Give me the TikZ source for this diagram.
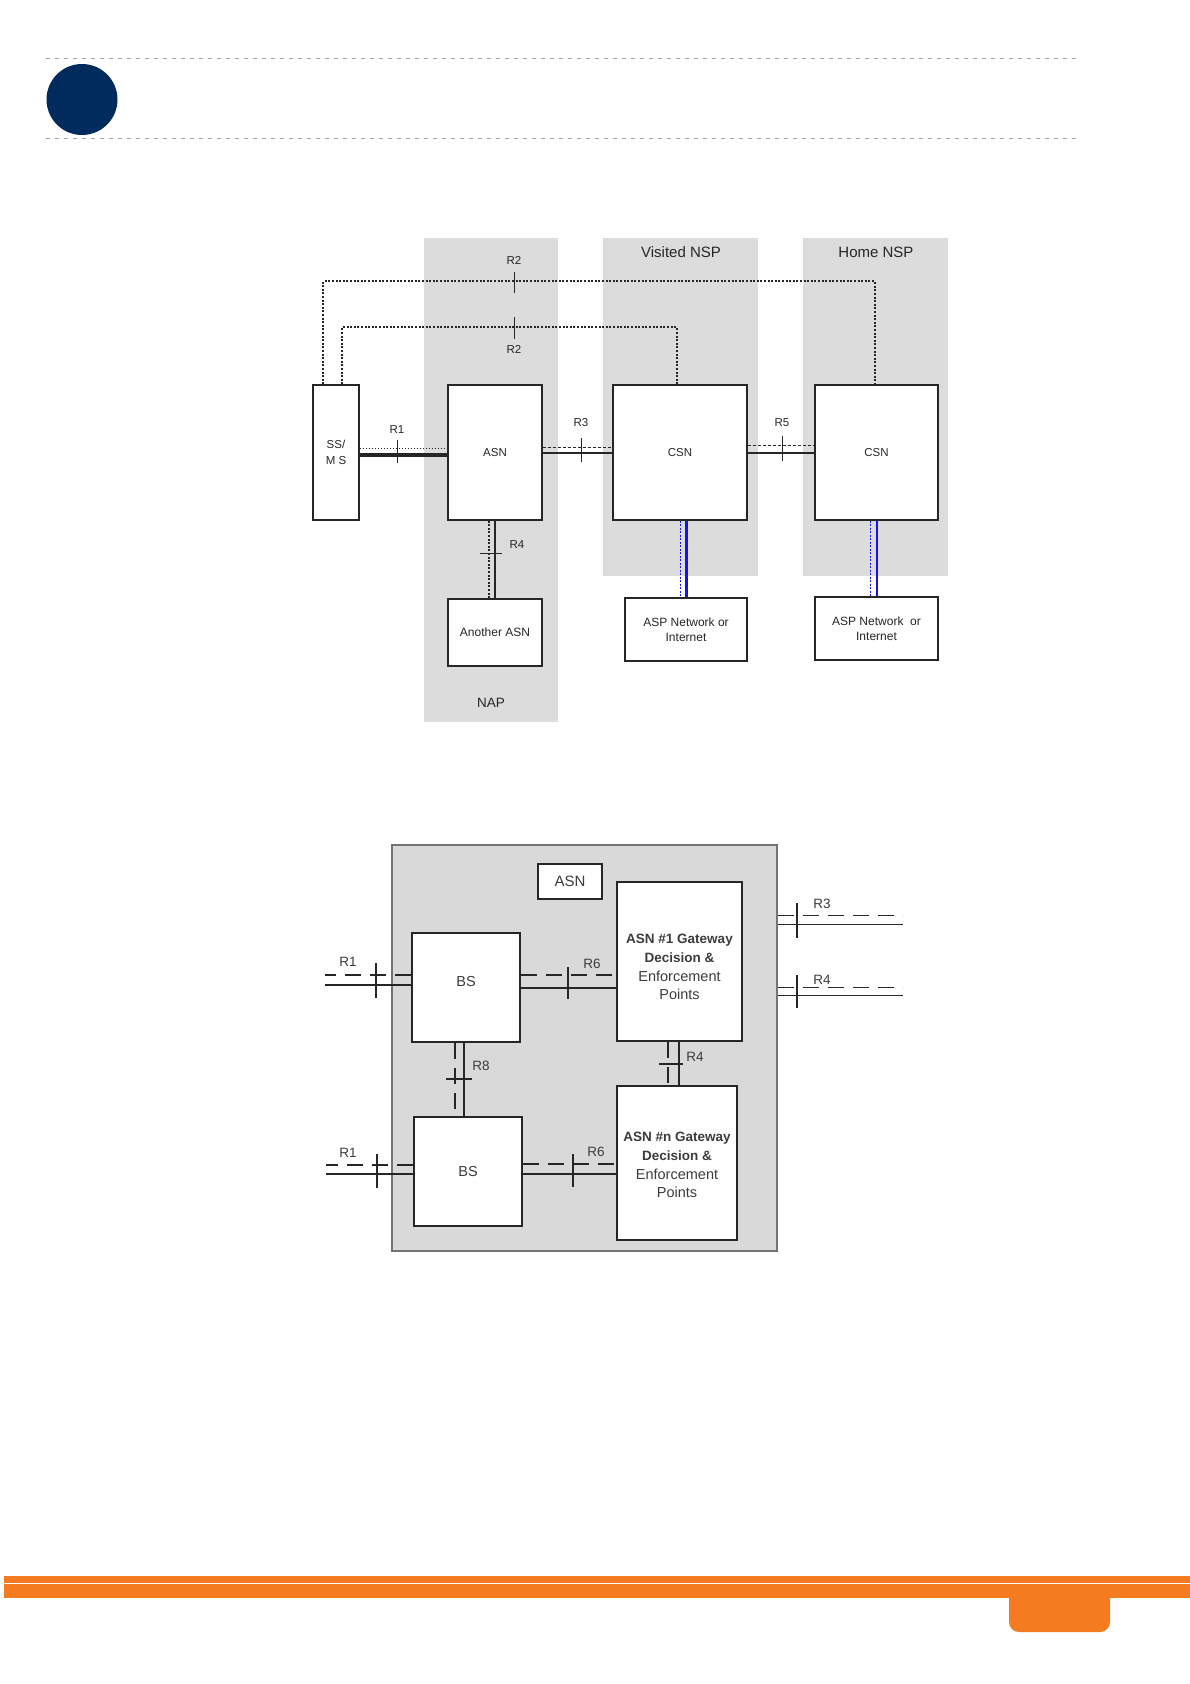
\documentclass[tikz,border=0pt]{standalone}
\usepackage{fontspec}
\setmainfont{Liberation Sans}
\usetikzlibrary{positioning, calc}
\definecolor{navyDot}{HTML}{002B5C}
\definecolor{barOrange}{HTML}{F47B20}
\definecolor{zoneGray}{HTML}{DCDCDC}
\definecolor{frameGray}{HTML}{D9D9D9}
\definecolor{lineDark}{HTML}{262626}
\definecolor{textSoft}{HTML}{3C3C3C}
\definecolor{linkBlue}{HTML}{1414E6}
\newcommand{\gwbold}[1]{{\fontsize{13.5}{18.7}\selectfont\bfseries #1}}

\begin{document}
\begin{tikzpicture}[x=1pt, y=-1pt,
    netbox/.style={rectangle, draw=lineDark, line width=1.1pt, fill=white, inner sep=0pt,
      text=lineDark, font=\fontsize{11.5}{15}\selectfont, align=center},
    gwbox/.style={netbox, line width=1.3pt, text=textSoft, font=\fontsize{14.5}{18.7}\selectfont},
    gwtext/.style={text=textSoft, font=\fontsize{14.5}{18.7}\selectfont, align=center, inner sep=0pt},
    zonelbl/.style={font=\fontsize{15}{17}\selectfont, text=lineDark},
    rlbl/.style={font=\fontsize{11.5}{13}\selectfont, text=lineDark, inner sep=0pt},
    rlbltwo/.style={font=\fontsize{13.5}{15}\selectfont, text=textSoft, inner sep=0pt},
    tickmk/.style={lineDark, line width=1pt},
    rtwo/.style={lineDark, line width=2pt, dash pattern=on 2pt off 1.6pt},
    dotln/.style={lineDark, line width=0.9pt, dash pattern=on 1.5pt off 1.5pt},
    dashsm/.style={lineDark, line width=0.9pt, dash pattern=on 3pt off 2pt},
    solidln/.style={lineDark, line width=1.2pt},
    dashln/.style={lineDark, line width=1.2pt, dash pattern=on 16pt off 9pt},
    bluesolid/.style={linkBlue, line width=3pt},
    bluedash/.style={linkBlue, line width=0.9pt, dash pattern=on 2pt off 1.5pt}
  ]
  \useasboundingbox (0,0) rectangle (1190,1684);
  \fill[white] (0,0) rectangle (1190,1684);

  % header
  \draw[gray!70, line width=1pt, dash pattern=on 4pt off 5pt] (46,58) -- (1076,58);
  \draw[gray!70, line width=1pt, dash pattern=on 4pt off 5pt] (46,138) -- (1076,138);
  \fill[navyDot] (82,99.5) circle[radius=35.5];

  % top diagram: domains
  \fill[zoneGray] (424,238) rectangle (558,722);
  \fill[zoneGray] (603,238) rectangle (758,576);
  \fill[zoneGray] (803,238) rectangle (948,576);
  \node[zonelbl] (vnsp) at (681,252) {Visited NSP};
  \node[zonelbl] (hnsp) at (876,252) {Home NSP};
  \node[zonelbl, font=\fontsize{13.5}{15}\selectfont] (nap) at (491,703) {NAP};

  \node[netbox, minimum width=46pt, minimum height=135pt, font=\fontsize{11.5}{16}\selectfont] (ssms) at (336,452.5) {SS/\\M S};
  \node[netbox, minimum width=94pt, minimum height=135pt] (asn) at (495,452.5) {ASN};
  \node[netbox, minimum width=134pt, minimum height=135pt] (csnv) at (680,452.5) {CSN};
  \node[netbox, minimum width=123pt, minimum height=135pt] (csnh) at (876.5,452.5) {CSN};
  \node[netbox, minimum width=94pt, minimum height=67pt, font=\fontsize{12}{14}\selectfont] (another) at (495,632.5) {Another ASN};
  \node[netbox, minimum width=122pt, minimum height=63pt, font=\fontsize{12}{14.5}\selectfont] (aspv) at (686,629.5) {ASP Network or\\Internet};
  \node[netbox, minimum width=123pt, minimum height=63pt, font=\fontsize{12}{14.5}\selectfont] (asph) at (876.5,628.5) {ASP Network~ or\\Internet};

  % R2 paths
  \draw[rtwo] ($(ssms.north west)+(11,0)$) -- ++(0,-103) -| ($(csnh.north)+(-1.5,0)$);
  \draw[rtwo] ($(ssms.north west)+(30,0)$) -- ++(0,-57) -| ($(csnv.north)+(-3,0)$);

  % R1, R3, R5
  \draw[dotln] ($(ssms.east)+(0,-4.5)$) -- ($(asn.west)+(0,-4.5)$);
  \draw[lineDark, line width=3.5pt] ($(ssms.east)+(0,2.5)$) -- ($(asn.west)+(0,2.5)$);
  \draw[dashsm] ($(asn.east)+(0,-5.5)$) -- ($(csnv.west)+(0,-5.5)$);
  \draw[lineDark, line width=2pt] (asn.east) -- (csnv.west);
  \draw[dashsm] ($(csnv.east)+(0,-7.5)$) -- ($(csnh.west)+(0,-7.5)$);
  \draw[lineDark, line width=2pt] (csnv.east) -- (csnh.west);

  % R4 to another ASN
  \draw[rtwo] ($(asn.south)+(-6,0)$) -- ($(another.north)+(-6,0)$);
  \draw[lineDark, line width=2pt] (asn.south) -- (another.north);

  % links to ASP
  \draw[bluedash] (csnv.south) -- (aspv.north -| csnv.south);
  \draw[bluesolid] ($(csnv.south)+(6,0)$) -- (aspv.north);
  \draw[bluedash] ($(csnh.south)+(-6,0)$) -- ($(asph.north)+(-6,0)$);
  \draw[bluesolid, line width=2pt] (csnh.south) -- (asph.north);

  \foreach \tx/\ta/\tb in {397/440/463, 581/438/462, 782/436/461, 514/272/293, 514/317/339}
    \draw[tickmk] (\tx,\ta) -- (\tx,\tb);
  \draw[tickmk] (480,553) -- (502,553);

  \foreach \lx/\ly/\lt [count=\i] in {397/430/R1, 514/260/R2, 514/349/R2, 581/423/R3, 782/423/R5, 517/545/R4}
    \node[rlbl] (ra\i) at (\lx,\ly) {\lt};

  % bottom diagram: ASN internals
  \node[rectangle, fill=frameGray, draw=gray!90!black, line width=1.5pt, minimum width=385pt, minimum height=406pt] (asnframe) at (584.5,1048) {};
  \node[netbox, minimum width=64pt, minimum height=35pt, text=textSoft, font=\fontsize{15}{17}\selectfont] (asnlbl) at (570,881.5) {ASN};
  \node[gwbox, minimum width=108pt, minimum height=109pt,
    label={[gwtext, yshift=6pt]center:BS}] (bsA) at (466,987.5) {};
  \node[gwbox, minimum width=108pt, minimum height=109pt] (bsB) at (468,1171.5) {BS};
  \node[gwbox, minimum width=125pt, minimum height=159pt,
    label={[gwtext, yshift=-5.5pt]center:\gwbold{ASN \#1 Gateway}\\\gwbold{Decision \&}\\Enforcement\\Points}] (gwA) at (679.5,961.5) {};
  \node[gwbox, minimum width=120pt, minimum height=154pt,
    label={[gwtext, yshift=-2.2pt]center:\gwbold{ASN \#n Gateway}\\\gwbold{Decision \&}\\Enforcement\\Points}] (gwN) at (677,1163) {};

  % R1 into the BSs
  \draw[dashln] ($(bsA.west)+(0,-12.5)$) -- ++(-86,0);
  \draw[solidln] ($(bsA.west)+(0,-2.5)$) -- ++(-86,0);
  \draw[dashln] ($(bsB.west)+(0,-6.5)$) -- ++(-87,0);
  \draw[solidln] ($(bsB.west)+(0,2.5)$) -- ++(-87,0);

  % R6
  \draw[dashln] ($(bsA.east)+(0,-12.5)$) -- ($(gwA.west |- bsA.east)+(0,-12.5)$);
  \draw[solidln] ($(bsA.east)+(0,0.5)$) -- ($(gwA.west |- bsA.east)+(0,0.5)$);
  \draw[dashln] ($(bsB.east)+(0,-7.5)$) -- ($(gwN.west |- bsB.east)+(0,-7.5)$);
  \draw[solidln] ($(bsB.east)+(0,2.5)$) -- ($(gwN.west |- bsB.east)+(0,2.5)$);

  % R8 and R4 inside
  \draw[dashln] ($(bsA.south)+(-11,0)$) -- ($(bsA.south |- bsB.north)+(-11,0)$);
  \draw[solidln] ($(bsA.south)+(-2,0)$) -- ($(bsA.south |- bsB.north)+(-2,0)$);
  \draw[dashln] ($(gwA.south)+(-11.5,0)$) -- ($(gwA.south |- gwN.north)+(-11.5,0)$);
  \draw[solidln] ($(gwA.south)+(-0.5,0)$) -- ($(gwA.south |- gwN.north)+(-0.5,0)$);

  % R3 and R4 out of the ASN
  \draw[dashln] ($(asnframe.north east)+(0,71)$) -- ++(125,0);
  \draw[solidln] ($(asnframe.north east)+(0,80)$) -- ++(125,0);
  \draw[dashln] ($(asnframe.north east)+(0,143)$) -- ++(125,0);
  \draw[solidln] ($(asnframe.north east)+(0,151)$) -- ++(125,0);

  \foreach \tx/\ta/\tb in {376/963/998, 568/967/999, 377/1154/1188, 573/1154/1187, 797/903/938, 797/975/1008}
    \draw[solidln] (\tx,\ta) -- (\tx,\tb);
  \draw[solidln] (446,1079) -- (472,1079);
  \draw[solidln] (659,1064) -- (683,1064);

  \foreach \lx/\ly/\lt [count=\i] in {348/962/R1, 592/964/R6, 348/1153/R1, 596/1152/R6, 481/1066/R8, 695/1057/R4, 822/904/R3, 822/980/R4}
    \node[rlbltwo] (rb\i) at (\lx,\ly) {\lt};

  % footer
  \fill[barOrange] (4,1576) rectangle (1190,1582.5);
  \fill[barOrange] (4,1584) rectangle (1190,1598);
  \fill[barOrange, rounded corners=10pt] (1009,1584) rectangle (1110,1632);
\end{tikzpicture}
\end{document}
